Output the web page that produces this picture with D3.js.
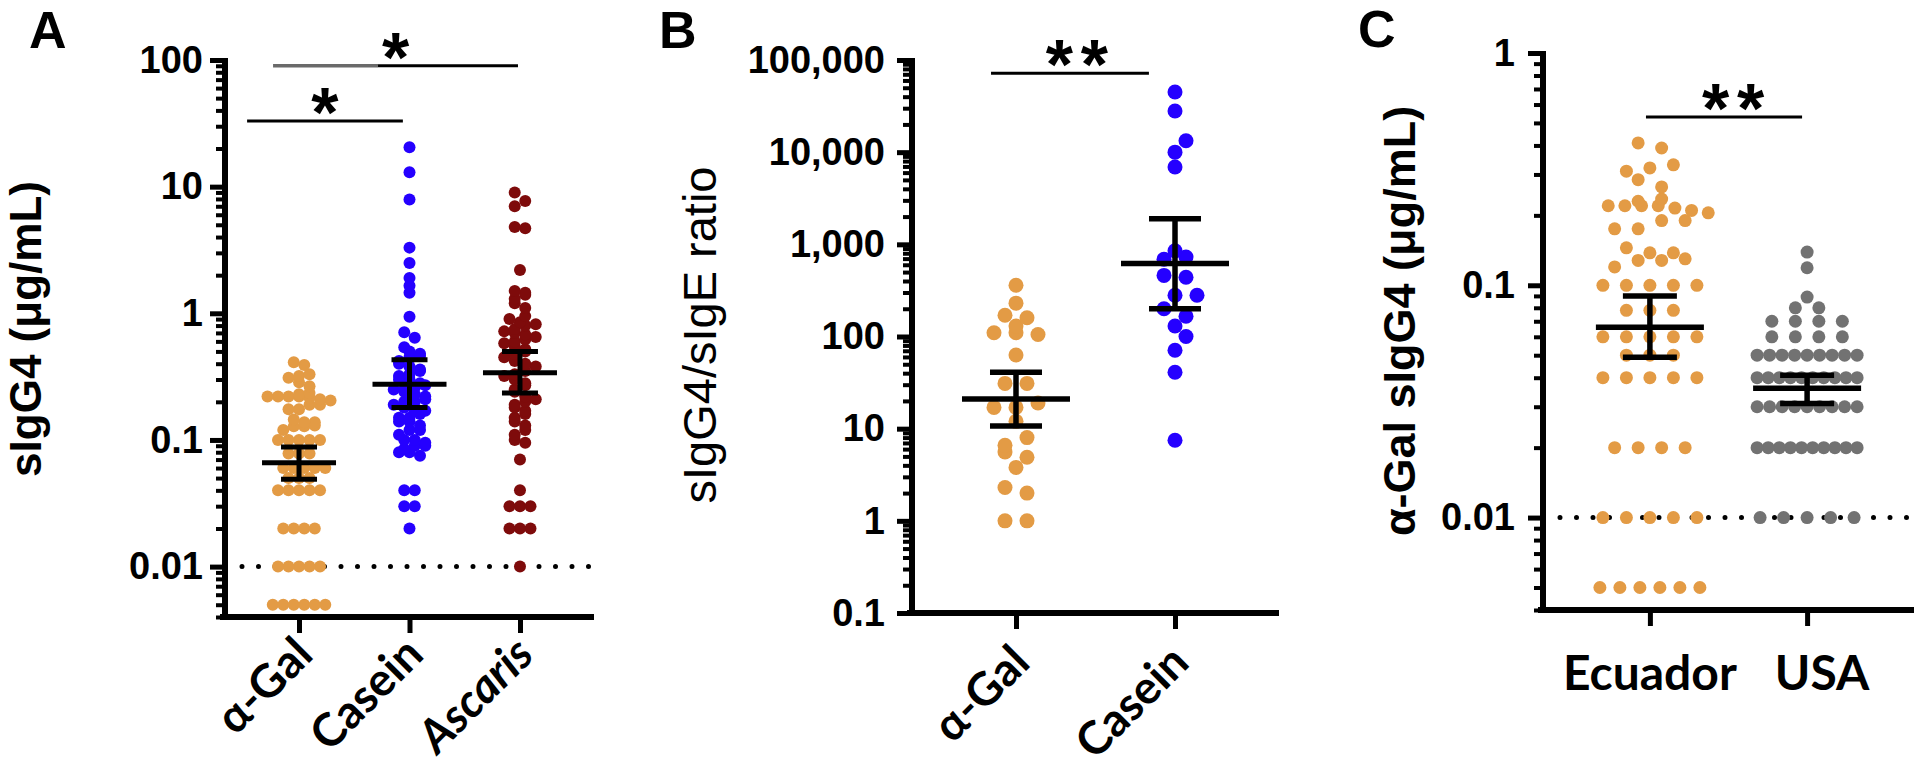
<!DOCTYPE html>
<html><head><meta charset="utf-8">
<script src="https://cdn.jsdelivr.net/npm/d3@7"></script>
<style>body{margin:0;background:#fff} svg{display:block}</style>
</head><body><svg id="chart" width="1920" height="770"></svg>
<script>
// ---------------- DATA ----------------
// Panel A: sIgG4 (µg/mL)
const panelACategories = ["α-Gal", "Casein", "Ascaris"];
const alphaGalEcuador = [0.41,0.39,0.33,0.32,0.31,0.285,0.265,0.235,0.23,0.22,0.22,0.22,0.22,0.215,0.21,0.205,0.19,0.19,0.175,0.175,0.145,0.138,0.138,0.13,0.128,0.128,0.12,0.1,0.1,0.1,0.1,0.1,0.078,0.078,0.078,0.06,0.06,0.06,0.06,0.06,0.05,0.05,0.05,0.04,0.04,0.04,0.04,0.04,0.02,0.02,0.02,0.02,0.01,0.01,0.01,0.01,0.01,0.005,0.005,0.005,0.005,0.005,0.005];
const caseinIgG4 = [20.5,13,7.9,3.3,2.5,1.9,1.65,1.45,0.94,0.71,0.64,0.54,0.5,0.48,0.46,0.45,0.42,0.4,0.38,0.36,0.35,0.33,0.32,0.3,0.3,0.28,0.27,0.26,0.25,0.25,0.24,0.23,0.22,0.21,0.2,0.2,0.19,0.18,0.17,0.17,0.16,0.15,0.15,0.14,0.14,0.13,0.12,0.12,0.11,0.1,0.1,0.095,0.09,0.09,0.085,0.08,0.08,0.075,0.04,0.04,0.03,0.03,0.02];
const ascarisIgG4 = [9,7.7,7,4.8,4.7,2.2,1.5,1.45,1.4,1.3,1.2,1.1,0.95,0.9,0.85,0.82,0.8,0.75,0.72,0.7,0.68,0.65,0.62,0.6,0.58,0.55,0.52,0.5,0.48,0.45,0.42,0.4,0.38,0.35,0.33,0.32,0.3,0.28,0.27,0.25,0.24,0.22,0.21,0.2,0.19,0.18,0.17,0.16,0.15,0.14,0.13,0.12,0.11,0.1,0.095,0.07,0.04,0.03,0.03,0.03,0.02,0.02,0.02,0.01];
const panelAMeans = [0.066, 0.275, 0.34];
const panelACiLow = [0.049, 0.18, 0.235];
const panelACiHigh = [0.088, 0.43, 0.5];
const panelATicks = [100, 10, 1, 0.1, 0.01];
const panelATickLabels = ["100", "10", "1", "0.1", "0.01"];

// Panel B: sIgG4/sIgE ratio
const panelBCategories = ["α-Gal", "Casein"];
const ratioAlphaGal = [360,230,170,160,130,110,110,105,63,31,31,19,17,17,12,8,6.6,5.6,4.9,3.8,2.3,2.0,1,1];
const ratioCasein = [45000,28000,13300,10000,6900,850,730,690,460,440,280,280,200,166,130,100,71,41,7.5];
const panelBMeans = [21, 620];
const panelBCiLow = [10.7, 200];
const panelBCiHigh = [41, 1900];
const panelBTicks = [100000, 10000, 1000, 100, 10, 1, 0.1];
const panelBTickLabels = ["100,000", "10,000", "1,000", "100", "10", "1", "0.1"];

// Panel C: α-Gal sIgG4 (µg/mL)
const panelCCategories = ["Ecuador", "USA"];
const alphaGalUSA = [0.139,0.119,0.089,0.08,0.08,0.07,0.07,0.07,0.07,0.06,0.06,0.06,0.06,0.05,0.05,0.05,0.05,0.05,0.05,0.05,0.05,0.05,0.04,0.04,0.04,0.04,0.04,0.04,0.04,0.04,0.04,0.04,0.03,0.03,0.03,0.03,0.03,0.03,0.03,0.03,0.03,0.02,0.02,0.02,0.02,0.02,0.02,0.02,0.02,0.02,0.02,0.01,0.01,0.01,0.01,0.01];
const panelCMeans = [0.066, 0.036];
const panelCCiLow = [0.049, 0.031];
const panelCCiHigh = [0.09, 0.041];
const panelCTicks = [1, 0.1, 0.01];
const panelCTickLabels = ["1", "0.1", "0.01"];

// ---------------- STYLE ----------------
const TAN = "#E39B45", BLUE = "#2500FF", DARKRED = "#7E0B0B", GRAY = "#727272";
const TICK_FONT = "'Liberation Sans', Arial, Helvetica, sans-serif";
const CAT_FONT = "Lato, 'Open Sans', sans-serif";

const svg = d3.select("#chart");
svg.append("rect").attr("width", 1920).attr("height", 770).attr("fill", "#fff");

function minorTicks(domain) {
  const [lo, hi] = domain, out = [];
  for (let e = Math.floor(Math.log10(lo)) - 1; e <= Math.ceil(Math.log10(hi)); e++) {
    for (let k = 2; k <= 9; k++) {
      const v = k * Math.pow(10, e);
      if (v >= lo * 0.999 && v <= hi * 1.001) out.push(v);
    }
  }
  return out;
}

// Prism-like row scatter layout
function layoutRows(values, y, S, W, tol, r) {
  const pts = values.map(v => ({ v, y: y(v) })).sort((a, b) => b.y - a.y);
  const rows = [];
  let cur = null;
  pts.forEach(p => {
    if (cur && Math.abs(p.y - cur.y0) <= tol) cur.pts.push(p);
    else { cur = { y0: p.y, pts: [p] }; rows.push(cur); }
  });
  const placed = [];
  rows.forEach((row, ri) => {
    const n = row.pts.length;
    const sp = n > 1 ? Math.min(S, 2 * W / (n - 1)) : 0;
    const base = row.pts.map((p, i) => (i - (n - 1) / 2) * sp);
    if (ri % 2) base.reverse();
    const half = (sp || S) / 2;
    let best = 0, bestC = Infinity;
    [0, half, -half].forEach(sh => {
      let c = 0;
      row.pts.forEach((p, i) => {
        const x = base[i] + sh;
        if (Math.abs(x) > W + 2) c += 0.5;
        placed.forEach(q => { if (Math.hypot(x - q.dx, p.y - q.y) < 2 * r * 0.92) c++; });
      });
      if (c < bestC) { bestC = c; best = sh; }
    });
    row.pts.forEach((p, i) => { p.dx = base[i] + best; placed.push(p); });
  });
  return pts;
}

function drawPanel(cfg) {
  const g = svg.append("g");
  const y = d3.scaleLog().domain(cfg.yDomain).range(cfg.yRange);
  const x = d3.scalePoint().domain(cfg.categories).range(cfg.xRange).padding(cfg.xPad);
  const step = x.step();
  const xAt = t => x(cfg.categories[0]) + t * step;
  const x0 = cfg.xRange[0], x1 = cfg.xRange[1], yb = cfg.yRange[0], yt = cfg.yRange[1];

  // panel letter
  g.append("text").attr("x", cfg.letterX).attr("y", cfg.letterY).text(cfg.letter)
    .attr("font-family", TICK_FONT).attr("font-weight", "bold").attr("font-size", 52).attr("fill", "#000");

  // y label
  g.append("text").attr("transform", `translate(${cfg.yLabelX},${cfg.yLabelY}) rotate(-90)`)
    .attr("text-anchor", "middle").text(cfg.yLabel)
    .attr("font-family", TICK_FONT).attr("font-weight", cfg.yLabelWeight).attr("font-size", cfg.yLabelSize).attr("fill", "#000");

  // dotted reference line
  if (cfg.refValue) {
    g.append("line").attr("x1", x0 + cfg.refStart).attr("x2", x1)
      .attr("y1", y(cfg.refValue)).attr("y2", y(cfg.refValue))
      .attr("stroke", "#000").attr("stroke-width", 5).attr("stroke-linecap", "round")
      .attr("stroke-dasharray", "0 16.5");
  }

  // dots
  cfg.series.forEach((vals, i) => {
    const pts = layoutRows(vals, y, cfg.S, cfg.W, cfg.tol, cfg.r);
    g.append("g").selectAll("circle").data(pts).join("circle")
      .attr("cx", d => x(cfg.categories[i]) + d.dx).attr("cy", d => y(d.v))
      .attr("r", cfg.r).attr("fill", cfg.colors[i]);
  });

  // mean & CI
  cfg.categories.forEach((c, i) => {
    const cx = x(c);
    const eb = g.append("g").attr("stroke", "#000").attr("stroke-width", cfg.ebWidth);
    eb.append("line").attr("x1", cx).attr("x2", cx).attr("y1", y(cfg.ciLow[i])).attr("y2", y(cfg.ciHigh[i]));
    eb.append("line").attr("x1", cx - cfg.meanHalf).attr("x2", cx + cfg.meanHalf).attr("y1", y(cfg.means[i])).attr("y2", y(cfg.means[i]));
    [cfg.ciLow[i], cfg.ciHigh[i]].forEach(v => eb.append("line").attr("x1", cx - cfg.capHalf).attr("x2", cx + cfg.capHalf).attr("y1", y(v)).attr("y2", y(v)));
  });

  // axes
  const majorAxis = d3.axisLeft(y).tickValues(cfg.yTicks).tickFormat((d, i) => cfg.yTickLabels[i]).tickSize(15).tickPadding(cfg.tickPad);
  const ga = g.append("g").attr("transform", `translate(${x0},0)`).call(majorAxis);
  ga.select(".domain").remove();
  ga.selectAll("line").attr("stroke", "#000").attr("stroke-width", 5);
  ga.selectAll("text").attr("font-family", TICK_FONT).attr("font-weight", "bold").attr("font-size", 38).attr("fill", "#000");
  const minorAxis = d3.axisLeft(y).tickValues(minorTicks(cfg.yDomain)).tickFormat("").tickSize(9);
  const gm = g.append("g").attr("transform", `translate(${x0},0)`).call(minorAxis);
  gm.select(".domain").remove();
  gm.selectAll("line").attr("stroke", "#000").attr("stroke-width", 4);

  const xAxis = d3.axisBottom(x).tickSize(16).tickFormat("").tickSizeOuter(0);
  const gx = g.append("g").attr("transform", `translate(0,${yb})`).call(xAxis);
  gx.select(".domain").remove();
  gx.selectAll("line").attr("stroke", "#000").attr("stroke-width", 5);

  g.append("line").attr("x1", x0).attr("x2", x0).attr("y1", yt - 2).attr("y2", yb).attr("stroke", "#000").attr("stroke-width", 6);
  g.append("line").attr("x1", x0 - 5).attr("x2", x1).attr("y1", yb).attr("y2", yb).attr("stroke", "#000").attr("stroke-width", 6);

  // category labels
  cfg.categories.forEach((c, i) => {
    const t = g.append("text").text(c)
      .attr("font-family", CAT_FONT).attr("font-weight", "bold").attr("font-size", cfg.catSize).attr("fill", "#000")
      .attr("font-style", cfg.italic && cfg.italic[i] ? "italic" : "normal");
    if (cfg.rotateLabels) {
      t.attr("text-anchor", "end").attr("transform", `translate(${x(c) + cfg.catDx},${cfg.catY}) rotate(-45)`);
    } else {
      t.attr("text-anchor", "middle").attr("x", x(c) + cfg.catDxs[i]).attr("y", cfg.catY);
    }
  });

  // significance bars
  cfg.sig.forEach(s => {
    const ys = y(s.value);
    if (s.grayTo !== undefined) {
      g.append("line").attr("x1", xAt(s.from)).attr("x2", xAt(s.grayTo)).attr("y1", ys).attr("y2", ys).attr("stroke", "#6a6a6a").attr("stroke-width", 3.5);
      g.append("line").attr("x1", xAt(s.grayTo)).attr("x2", xAt(s.to)).attr("y1", ys).attr("y2", ys).attr("stroke", "#000").attr("stroke-width", 3);
    } else {
      g.append("line").attr("x1", xAt(s.from)).attr("x2", xAt(s.to)).attr("y1", ys).attr("y2", ys).attr("stroke", "#000").attr("stroke-width", 3);
    }
    const mid = (xAt(s.from) + xAt(s.to)) / 2 + (s.starShift || 0);
    for (let k = 0; k < s.stars; k++) {
      const sx = mid + (k - (s.stars - 1) / 2) * 35;
      g.append("text").attr("x", sx).attr("y", ys + 16).attr("text-anchor", "middle").text("*")
        .attr("font-family", TICK_FONT).attr("font-weight", "bold").attr("font-size", 70).attr("fill", "#000");
    }
  });
}

drawPanel({
  letter: "A", letterX: 29, letterY: 48,
  categories: panelACategories, series: [alphaGalEcuador, caseinIgG4, ascarisIgG4], colors: [TAN, BLUE, DARKRED],
  means: panelAMeans, ciLow: panelACiLow, ciHigh: panelACiHigh,
  yDomain: [0.004, 100], yRange: [617, 60], xRange: [225, 594], xPad: 0.67,
  yTicks: panelATicks, yTickLabels: panelATickLabels, tickPad: 7,
  r: 6, S: 10.5, W: 32, tol: 6, meanHalf: 37, capHalf: 18, ebWidth: 5,
  refValue: 0.01, refStart: 17,
  yLabel: "sIgG4 (μg/mL)", yLabelX: 41, yLabelY: 329, yLabelSize: 44, yLabelWeight: "bold",
  rotateLabels: true, catDx: 16, catY: 657, catSize: 46, italic: [false, false, true],
  sig: [{ from: -0.47, to: 0.94, value: 33, stars: 1 }, { from: -0.235, to: 1.982, grayTo: 0.715, value: 90, stars: 1 }]
});

drawPanel({
  letter: "B", letterX: 659, letterY: 48,
  categories: panelBCategories, series: [ratioAlphaGal, ratioCasein], colors: [TAN, BLUE],
  means: panelBMeans, ciLow: panelBCiLow, ciHigh: panelBCiHigh,
  yDomain: [0.1, 100000], yRange: [613, 60], xRange: [912, 1279], xPad: 0.654,
  yTicks: panelBTicks, yTickLabels: panelBTickLabels, tickPad: 12,
  r: 7.5, S: 22, W: 45, tol: 8, meanHalf: 54, capHalf: 26, ebWidth: 5.5,
  refValue: null,
  yLabel: "sIgG4/sIgE ratio", yLabelX: 716, yLabelY: 335, yLabelSize: 47, yLabelWeight: "normal",
  rotateLabels: true, catDx: 16, catY: 665, catSize: 46,
  sig: [{ from: -0.157, to: 0.836, value: 72000, stars: 2, starShift: 7 }]
});

drawPanel({
  letter: "C", letterX: 1358, letterY: 47,
  categories: panelCCategories, series: [alphaGalEcuador, alphaGalUSA], colors: [TAN, GRAY],
  means: panelCMeans, ciLow: panelCCiLow, ciHigh: panelCCiHigh,
  yDomain: [0.004, 1], yRange: [610, 53], xRange: [1543, 1914], xPad: 0.68,
  yTicks: panelCTicks, yTickLabels: panelCTickLabels, tickPad: 13,
  r: 6.5, S: 23.5, W: 50, tol: 9, meanHalf: 54, capHalf: 27, ebWidth: 5.5,
  refValue: 0.01, refStart: 17,
  yLabel: "α-Gal sIgG4 (μg/mL)", yLabelX: 1415, yLabelY: 321, yLabelSize: 45, yLabelWeight: "bold",
  rotateLabels: false, catDxs: [0, 15], catY: 690, catSize: 48,
  sig: [{ from: -0.025, to: 0.968, value: 0.53, stars: 2, starShift: 9 }]
});
</script></body></html>
